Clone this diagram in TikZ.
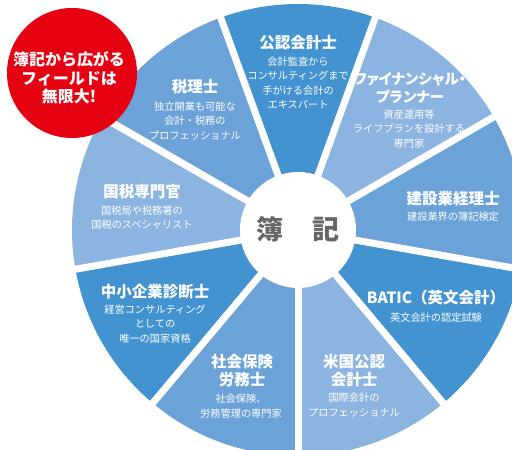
\documentclass[tikz,border=0pt]{standalone}
\usepackage{fontspec}
\setmainfont{Noto Sans CJK JP}
\definecolor{bdark}{HTML}{4393D1}
\definecolor{bmid}{HTML}{6BA2D8}
\definecolor{blight}{HTML}{8CB4E0}
\definecolor{bred}{HTML}{E50012}
\definecolor{tgray}{HTML}{666666}
\tikzset{
  gapline/.style={white, line width=7pt},
  ttl/.style={text=white, align=center, font=\fontsize{15.5}{18}\selectfont\bfseries, inner sep=0pt},
  sub/.style={text=white, align=center, font=\fontsize{10.2}{14.6}\selectfont, inner sep=0pt},
}
\begin{document}
\begin{tikzpicture}[x=1pt,y=1pt]
\useasboundingbox (0,0) rectangle (512,450);
\begin{scope}
\clip (0,0) rectangle (512,450);
\coordinate (c) at (298,220);
\foreach \a/\col in {90/bdark,50/blight,10/bmid,-30/bdark,-70/blight,-110/bmid,-150/bdark,170/blight,130/bmid}{
  \fill[\col] (c) -- ++(\a-20:226) arc[start angle=\a-20, end angle=\a+20, radius=226] -- cycle;
}
\foreach \b in {110,70,30,-10,-50,-90,-130,-170,150}{
  \draw[gapline] (c) -- ++(\b:240);
}
\fill[white] (c) circle (58);
\end{scope}
\node[text=tgray, font=\fontsize{27}{27}\selectfont\bfseries, inner sep=0pt] (center) at (298,221) {簿\hspace{1.05em}記};
% red badge
\fill[bred] (72,377) circle (65);
\node[text=white, align=center, font=\fontsize{16}{18.5}\selectfont\bfseries, inner sep=0pt] (badge) at (69,372) {簿記から広がる\\フィールドは\\無限大!};
% sectors
\node[ttl] (t1) at (298,407) {公認会計士};
\node[sub] (s1) at (298,367) {会計監査から\\コンサルティングまで\\手がける会計の\\エキスパート};
\node[ttl, font=\fontsize{14.6}{18}\selectfont\bfseries\addfontfeatures{RawFeature=+palt}] (t2) at (410,362) {ファイナンシャル・\\プランナー};
\node[sub] (s2) at (409,321) {資産運用等\\ライフプランを設計する\\専門家};
\node[ttl] (t3) at (453,251) {建設業経理士};
\node[sub] (s3) at (453,233) {建設業界の簿記検定};
\node[ttl] (t4) at (436,152) {BATIC（英文会計）};
\node[sub] (s4) at (436,132) {英文会計の認定試験};
\node[ttl] (t5) at (354,79.5) {米国公認\\会計士};
\node[sub] (s5) at (354,45) {国際会計の\\プロフェッショナル};
\node[ttl] (t6) at (242,79) {社会保険\\労務士};
\node[sub] (s6) at (241,44) {社会保険、\\労務管理の専門家};
\node[ttl] (t7) at (155,158) {中小企業診断士};
\node[sub] (s7) at (155,126) {経営コンサルティング\\としての\\唯一の国家資格};
\node[ttl] (t8) at (142,258) {国税専門官};
\node[sub] (s8) at (142,232.5) {国税局や税務署の\\国税のスペシャリスト};
\node[ttl] (t9) at (195,363) {税理士};
\node[sub] (s9) at (195,329) {独立開業も可能な\\会計・税務の\\プロフェッショナル};
\end{tikzpicture}
\end{document}
